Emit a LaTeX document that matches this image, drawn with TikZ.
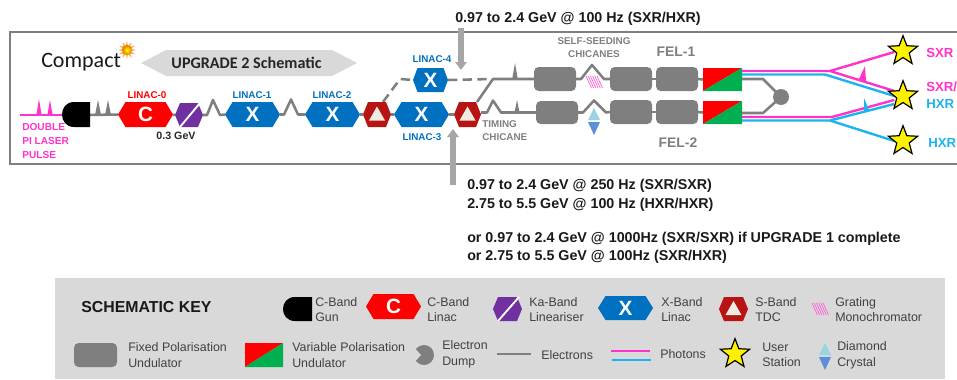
\documentclass[tikz,border=0pt]{standalone}
\usepackage{fontspec}
\setmainfont{Liberation Sans}
\newfontfamily\calib{Carlito}
\usetikzlibrary{calc,fit,shapes.geometric,arrows.meta}
\pgfdeclarelayer{back}
\pgfsetlayers{back,main}
\definecolor{cpink}{HTML}{FF33CC}
\definecolor{ccyan}{HTML}{1CB4F0}
\definecolor{cblue}{HTML}{0070C0}
\definecolor{cpurple}{HTML}{7030A0}
\definecolor{cdred}{HTML}{B81414}
\definecolor{cbeige}{HTML}{EEECE1}
\definecolor{cgrey}{HTML}{7F7F7F}
\definecolor{cgreen}{HTML}{00B050}
\definecolor{ckey}{HTML}{D9D9D9}
\definecolor{carrow}{HTML}{A6A6A6}
\definecolor{ctxt}{HTML}{404040}
\definecolor{cdl}{HTML}{9AD3E3}
\definecolor{cdd}{HTML}{5B8FD9}
\tikzset{
  x=0.75pt,y=-0.75pt,
  box/.style={inner sep=0pt,outer sep=0pt},
  eline/.style={draw=cgrey,line width=1.9pt,line join=round},
  dline/.style={eline,dash pattern=on 7pt off 4pt},
  pline/.style={draw=cpink,line width=1.8pt,line join=round},
  cline/.style={draw=ccyan,line width=1.8pt,line join=round},
  und/.style={box,fill=cgrey,rounded corners=3.5pt},
  ustar/.style={star,star points=5,star point ratio=2.35,draw=black,fill=yellow,line width=0.9pt,minimum size=23pt,inner sep=0pt,outer sep=0pt},
  llab/.style={font=\bfseries\fontsize{7.4}{9}\selectfont,inner sep=0pt},
  bluelab/.style={llab,text=cblue},
  greylab/.style={llab,text=cgrey,align=left},
  pinklab/.style={llab,text=cpink,align=left,anchor=west,font=\bfseries\fontsize{7.6}{9}\selectfont},
  xrlab/.style={inner sep=0pt,anchor=west,font=\bfseries\fontsize{9.9}{11}\selectfont},
  feltxt/.style={inner sep=0pt,text=cgrey,font=\bfseries\fontsize{10.4}{12}\selectfont},
  bigtxt/.style={inner sep=0pt,anchor=west,align=left,font=\bfseries\fontsize{10.7}{12}\selectfont,text=black!90},
  keytxt/.style={inner sep=0pt,anchor=west,align=left,text=ctxt,font=\fontsize{9.3}{11.6}\selectfont},
  hextxt/.style={inner sep=0pt,text=white,font=\bfseries\fontsize{15.5}{16}\selectfont},
  bigarr/.style={draw=carrow,line width=4pt,-{Triangle[width=8.5pt,length=6pt]}},
}
% name, x1, y1, x2, y2, inset, colour
\newcommand\hexa[7]{%
  \node[box,fit={(#2,#3)(#4,#5)}] (#1) {};
  \fill[#7] (#1.west) -- ($(#1.north west)+(#6,0)$) -- ($(#1.north east)+(-#6,0)$) -- (#1.east)
    -- ($(#1.south east)+(-#6,0)$) -- ($(#1.south west)+(#6,0)$) -- cycle;}
\newcommand\kaslash[1]{\draw[white,line width=1.4pt] ($(#1.south west)+(5,0)$) -- ($(#1.north east)+(-3,0)$);}
\newcommand\tdctri[1]{\fill[cbeige] ($(#1.center)+(0,-8)$) -- ($(#1.center)+(8,6)$) -- ($(#1.center)+(-8,6)$) -- cycle;}
\newcommand\vpu[5]{%
  \node[box,fit={(#2,#3)(#4,#5)}] (#1) {};
  \fill[red] (#1.north west) -- (#1.north east) -- (#1.south west) -- cycle;
  \fill[cgreen] (#1.north east) -- (#1.south east) -- (#1.south west) -- cycle;}
\newcommand\spike[5]{\fill[#5] (#1-#4,#2) -- (#1,#3) -- (#1+#4,#2) -- cycle;}
\newcommand\gun[5]{%
  \node[box,fit={(#2,#3)(#4,#5)}] (#1) {};
  \fill[black] (#1.north east) -- ($(#1.north west)+(12,0)$)
    .. controls ($(#1.north west)+(-4,0)$) and ($(#1.south west)+(-4,0)$) .. ($(#1.south west)+(12,0)$)
    -- (#1.south east) -- cycle;}
\newcommand\grating[2]{\foreach \k in {0,1,2,3,4,5}{\draw[cpink!75,line width=0.55pt] (#1+2.2*\k,#2) -- (#1+5.5+2.2*\k,#2+12);}}
\newcommand\diam[3]{%
  \fill[cdl] (#1-6,#3-1) -- (#1,#2) -- (#1+6,#3-1) -- cycle;
  \fill[cdd] (#1-6,#3+1) -- (#1,#3+14) -- (#1+6,#3+1) -- cycle;}
\begin{document}
\begin{tikzpicture}
\useasboundingbox (0,0) rectangle (957,379);
\clip (0,0) rectangle (957,379);
% frame
\draw[cgrey,line width=0.9pt] (975,32) -- (10,32) -- (10,164) -- (975,164);
% headline
\node[llab,anchor=west,font=\calib\fontsize{16.5}{18}\selectfont,text=black!90] (compact) at (41,62) {Compact};
\shade[inner color=yellow,outer color=orange!90!black] (127,50) circle[radius=5.2];
\foreach \a in {0,30,...,330}{\fill[orange!90] ($(127,50)+(\a+10:4.5)$) -- ($(127,50)+(\a:9)$) -- ($(127,50)+(\a-10:4.5)$) -- cycle;}
\fill[ckey] (141,63) -- (166,50) -- (332,50) -- (357,63) -- (332,76) -- (166,76) -- cycle;
\node[inner sep=0pt,font=\calib\bfseries\fontsize{12.1}{14}\selectfont,text=black!85] (upg) at (246.5,63) {UPGRADE 2 Schematic};
% laser
\coordinate (ls) at (20,115);
\spike{39}{115}{99}{2.6}{cpink}
\spike{50}{115}{100}{2.6}{cpink}
% lower beamline components
\gun{gun}{62}{102}{90}{127}
\draw[pline] (ls) -- (gun.west |- ls);
\hexa{l0}{118}{102}{173}{127}{7.5}{red}
\node[hextxt] (l0t) at (l0.center) {C};
\hexa{ka}{175}{103}{203}{127}{5}{cpurple}
\kaslash{ka}
\hexa{l1}{225}{102}{280}{127}{7.5}{cblue}
\node[hextxt] (l1t) at (l1.center) {X};
\hexa{l2}{305}{102}{360}{127}{7.5}{cblue}
\node[hextxt] (l2t) at (l2.center) {X};
\hexa{t1}{363}{102}{391}{127}{5}{cdred}
\tdctri{t1}
\hexa{l3}{394}{102}{449}{127}{7.5}{cblue}
\node[hextxt] (l3t) at (l3.center) {X};
\hexa{t2}{454}{102}{481}{127}{5}{cdred}
\tdctri{t2}
\hexa{l4}{413}{68}{448}{92}{4.5}{cblue}
\node[hextxt] (l4t) at (l4.center) {X};
% undulators
\node[und,fit={(534,67)(576,91)}] (u11) {};
\node[und,fit={(610,67)(652,91)}] (u12) {};
\node[und,fit={(656,67)(698,91)}] (u13) {};
\node[und,fit={(536,101)(578,124)}] (u21) {};
\node[und,fit={(610,100)(652,124)}] (u22) {};
\node[und,fit={(656,100)(698,124)}] (u23) {};
\vpu{v1}{703}{68}{742}{91}
\vpu{v2}{703}{101}{742}{124}
\node[circle,fill=cgrey,minimum size=12pt,inner sep=0pt] (dump) at (781,97) {};
% electron lines
\begin{pgfonlayer}{back}
\draw[eline] (gun.east |- 0,115) -- (l0.west);
\draw[eline] (l0.east) -- (ka.west);
\draw[eline] (ka.east) -- ++(4,0) -- ++(6,-15) -- ++(7,15) -- (l1.west);
\draw[eline] (l1.east) -- ++(4,0) -- ++(7,-15) -- ++(7,15) -- (l2.west);
\draw[eline] (l2.east) -- (t1.west);
\draw[eline] (t1.east) -- (l3.west);
\draw[eline] (l3.east) -- (t2.west);
\draw[dline] (t1.north east) ++(-8,0) -- (400,79) -- (l4.west);
\draw[dline] (l4.east) -- (492,79);
\draw[eline] (t2.north east) ++(-4,0) -- (493,79) -- (u11.west);
\draw[eline] (t2.east |- u21.west) -- ++(6,0) -- ++(6,-12) -- ++(8,12) -- (u21.west);
\draw[eline] (u11.east) -- ++(5,0) -- ++(11,-14) -- ++(12,14) -- (u12.west);
\draw[eline] (u21.east) -- ++(5,0) -- ++(11,-12) -- ++(12,12) -- (u22.west);
\draw[eline] (u12.east) -- (u13.west);
\draw[eline] (u22.east) -- (u23.west);
\draw[eline] (u13.east) -- (v1.west);
\draw[eline] (u23.east) -- (v2.west);
\draw[eline] (742,79) -- (763,79) -- (dump.center);
\draw[eline] (742,113) -- (763,113) -- (dump.center);
\end{pgfonlayer}
% bunch spikes
\spike{98}{115}{100}{3}{cgrey}
\spike{108}{115}{100}{3}{cgrey}
\spike{515}{79}{63}{2.8}{cgrey}
\spike{517}{112}{100}{2.4}{cgrey}
% crystal and grating
\grating{586}{76}
\diam{594}{108}{121}
% photon lines
\node[ustar] (s1) at (903,51) {};
\node[ustar] (s2) at (903,96) {};
\node[ustar] (s3) at (903,141) {};
\begin{pgfonlayer}{back}
\draw[pline] (v1.east |- 0,71) -- (830,71) -- (s1.west |- 0,52);
\draw[pline] (830,71) -- (s2.west |- 0,91);
\draw[cline] (v1.east |- 0,74.5) -- (825,74.5) -- (s2.west |- 0,96);
\draw[pline] (v2.east |- 0,117) -- (832,117) -- (s2.west |- 0,100);
\draw[cline] (v2.east |- 0,120.5) -- (830,120.5) -- (s2.west |- 0,104);
\draw[cline] (830,120.5) -- (s3.west |- 0,141);
\end{pgfonlayer}
\fill[cpink] (859,79) -- (865,66) -- (866,81.5) -- cycle;
\fill[ccyan] (864,98) -- (864,112) -- (869,110) -- cycle;
% texts in frame
\node[pinklab] (dbl) at (22,141) {DOUBLE\\[1.2pt]PI LASER\\[1.2pt]PULSE};
\node[llab,text=red] (t0) at (147,95) {LINAC-0};
\node[bluelab] (t1l) at (252,95) {LINAC-1};
\node[bluelab] (t2l) at (332,95) {LINAC-2};
\node[bluelab] (t3l) at (422,137) {LINAC-3};
\node[bluelab] (t4l) at (432,59) {LINAC-4};
\node[llab,text=black!85,font=\bfseries\fontsize{8}{9}\selectfont] (gev) at (176,136) {0.3 GeV};
\node[greylab,align=center] (ssc) at (594,48) {SELF-SEEDING\\[0.8pt]CHICANES};
\node[greylab,anchor=west] (tch) at (482,131) {TIMING\\[0.8pt]CHICANE};
\node[feltxt] (f1) at (676,52) {FEL-1};
\node[feltxt] (f2) at (678,143) {FEL-2};
\node[xrlab,text=cpink] (x1) at (926,53) {SXR};
\node[xrlab,text=cpink] (x2) at (926,87) {SXR/};
\node[xrlab,text=ccyan] (x3) at (926,104) {HXR};
\node[xrlab,text=ccyan] (x4) at (928,143) {HXR};
% arrows and energy text
\coordinate (a1s) at (461,28);
\coordinate (a1e) at (461,70);
\coordinate (a2s) at (453,185);
\coordinate (a2e) at (453,129);
\draw[bigarr] (a1s) -- (a1e);
\draw[bigarr] (a2s) -- (a2e);
\node[bigtxt] (e0) at (455,19) {0.97 to 2.4 GeV @ 100 Hz (SXR/HXR)};
\node[bigtxt] (e1) at (467,186) {0.97 to 2.4 GeV @ 250 Hz (SXR/SXR)};
\node[bigtxt] (e2) at (467,205) {2.75 to 5.5 GeV @ 100 Hz (HXR/HXR)};
\node[bigtxt] (e3) at (467,239) {or 0.97 to 2.4 GeV @ 1000Hz (SXR/SXR) if UPGRADE 1 complete};
\node[bigtxt] (e4) at (467,257) {or 2.75 to 5.5 GeV @ 100Hz (SXR/HXR)};
% key
\fill[ckey] (55,278) rectangle (945,379);
\node[inner sep=0pt,anchor=west,font=\bfseries\fontsize{11.9}{13}\selectfont,text=black!90] (keyt) at (81,307) {SCHEMATIC KEY};
\gun{kg}{283}{297}{312}{321}
\node[keytxt] (kgt) at (315,309.5) {C-Band\\Gun};
\hexa{kc}{366}{294}{421}{319}{7.5}{red}
\node[hextxt] (kct) at (kc.center) {C};
\node[keytxt] (kcl) at (427,309.5) {C-Band\\Linac};
\hexa{kk}{493}{297}{522}{321}{5}{cpurple}
\kaslash{kk}
\node[keytxt] (kkt) at (529,309.5) {Ka-Band\\Lineariser};
\hexa{kx}{598}{296}{653}{320}{7.5}{cblue}
\node[hextxt] (kxt) at (kx.center) {X};
\node[keytxt] (kxl) at (661,309.5) {X-Band\\Linac};
\hexa{ks}{719}{297}{748}{321}{5}{cdred}
\tdctri{ks}
\node[keytxt] (kst) at (755,309.5) {S-Band\\TDC};
\grating{812}{303}
\node[keytxt] (kgr) at (835,309.5) {Grating\\Monochromator};
\node[und,fit={(74,343)(117,367)}] (ku) {};
\node[keytxt] (kut) at (128,355) {Fixed Polarisation\\Undulator};
\vpu{kv}{245}{343}{283}{367}
\node[keytxt] (kvt) at (292,355) {Variable Polarisation\\Undulator};
\node[circle,fill=cgrey,minimum size=15pt,inner sep=0pt] (kd) at (424,355) {};
\fill[ckey] (kd.145) -- ($(kd.center)+(-3,0)$) -- (kd.215) -- ($(kd.215)+(-4,0)$) -- ($(kd.145)+(-4,0)$) -- cycle;
\node[keytxt] (kdt) at (442,354.5) {Electron\\Dump};
\coordinate (kes) at (497,354);
\coordinate (kee) at (531,354);
\draw[eline] (kes) -- (kee);
\node[keytxt] (ket) at (541,355) {Electrons};
\coordinate (kps) at (611,351);
\coordinate (kpe) at (650,351);
\coordinate (kcs) at (612,360);
\coordinate (kce) at (651,360);
\draw[pline] (kps) -- (kpe);
\draw[cline] (kcs) -- (kce);
\node[keytxt] (kpt) at (660,354) {Photons};
\node[ustar] (kst2) at (735,354) {};
\node[keytxt] (kut2) at (762,355) {User\\Station};
\diam{825}{343}{356}
\node[keytxt] (kdm) at (837,355.5) {Diamond\\Crystal};
\end{tikzpicture}
\end{document}
